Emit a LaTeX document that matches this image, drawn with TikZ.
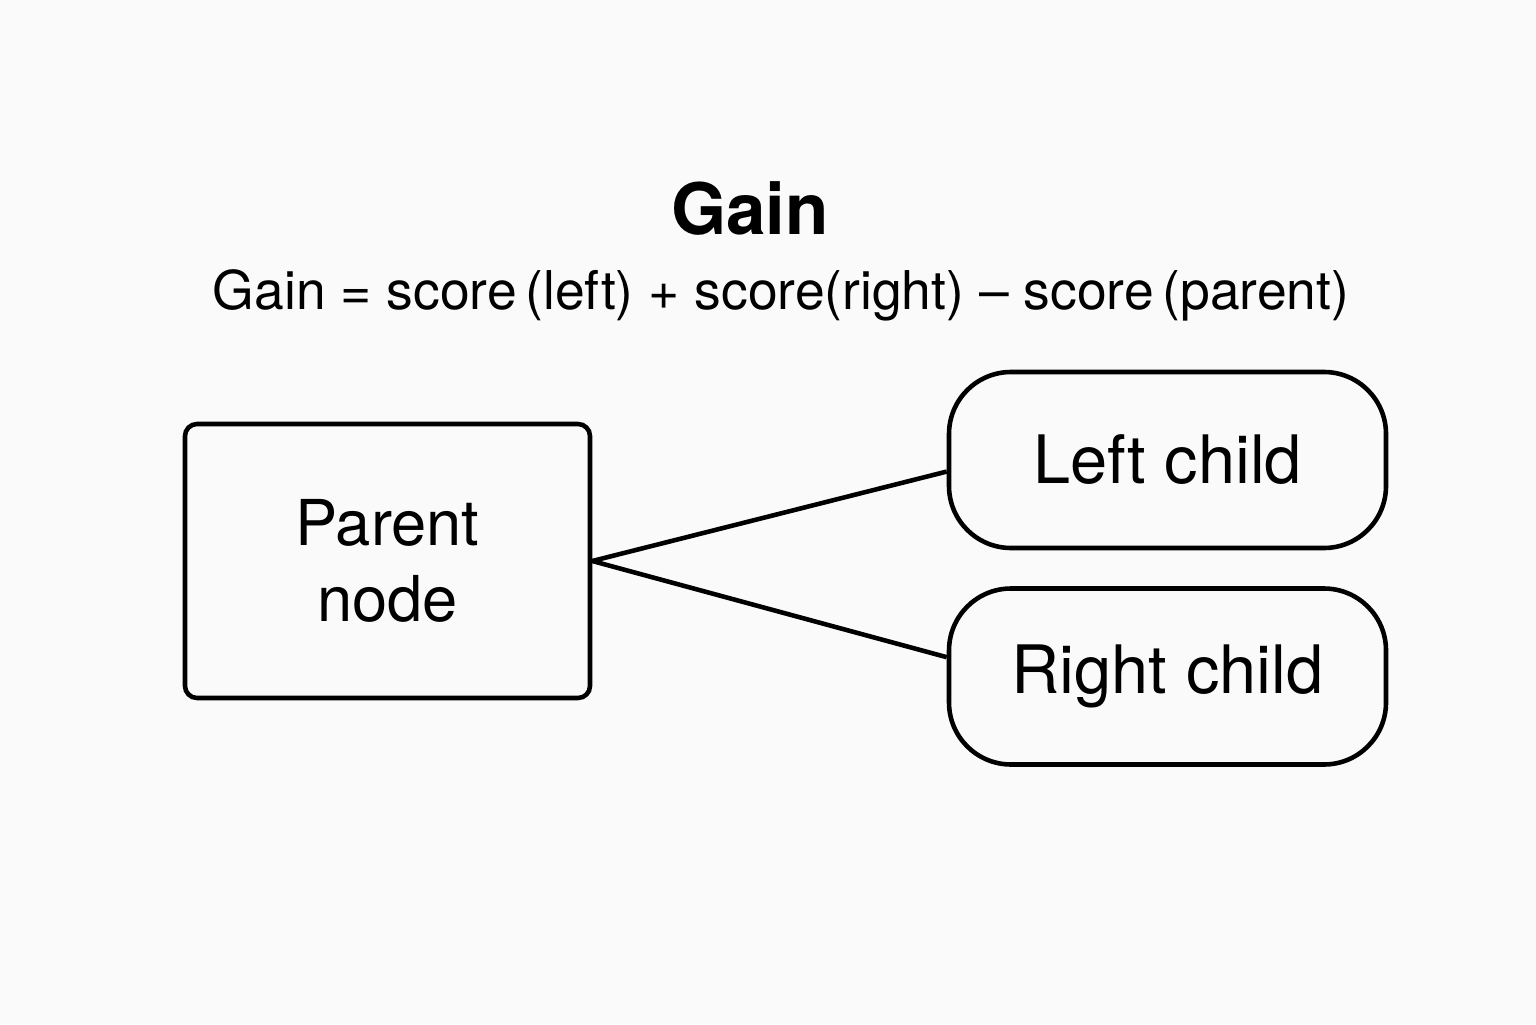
\documentclass[tikz,border=0pt]{standalone}
\usepackage{fontspec}
\setmainfont{TeX Gyre Heros}
\usetikzlibrary{positioning}

\tikzset{
    box/.style={draw, line width=1.3pt, align=center, font=\fontsize{19}{21.5}\selectfont},
    parentbox/.style={box, rounded corners=0.12cm, minimum width=4.05cm, minimum height=2.74cm, font=\fontsize{18}{21.5}\selectfont},
    childbox/.style={box, rounded corners=0.62cm, minimum width=4.37cm, minimum height=1.76cm},
    link/.style={line width=1.3pt}
}

\begin{document}
\begin{tikzpicture}
    % Fix the page size
    \useasboundingbox[fill=black!2] (0,0) rectangle (15.36,10.24);

    % Place the title and the formula
    \node (title) at (7.5,8.16) {\fontsize{20.2}{24}\selectfont\bfseries Gain};
    \node (formula) at (7.81,7.29) {\fontsize{15.2}{18}\selectfont Gain = score\,(left) + score(right) -- score\,(parent)};

    % Define the nodes of the split
    \node[parentbox] (parent) at (3.875,4.63) {Parent\\node};
    \node[childbox] (lchild) at (11.675,5.64) {Left child};
    \node[childbox] (rchild) at (11.675,3.475) {Right child};

    % Draw the branches
    \draw[link] (parent.east) -- (lchild.183);
    \draw[link] (parent.east) -- (rchild.175);

\end{tikzpicture}
\end{document}
